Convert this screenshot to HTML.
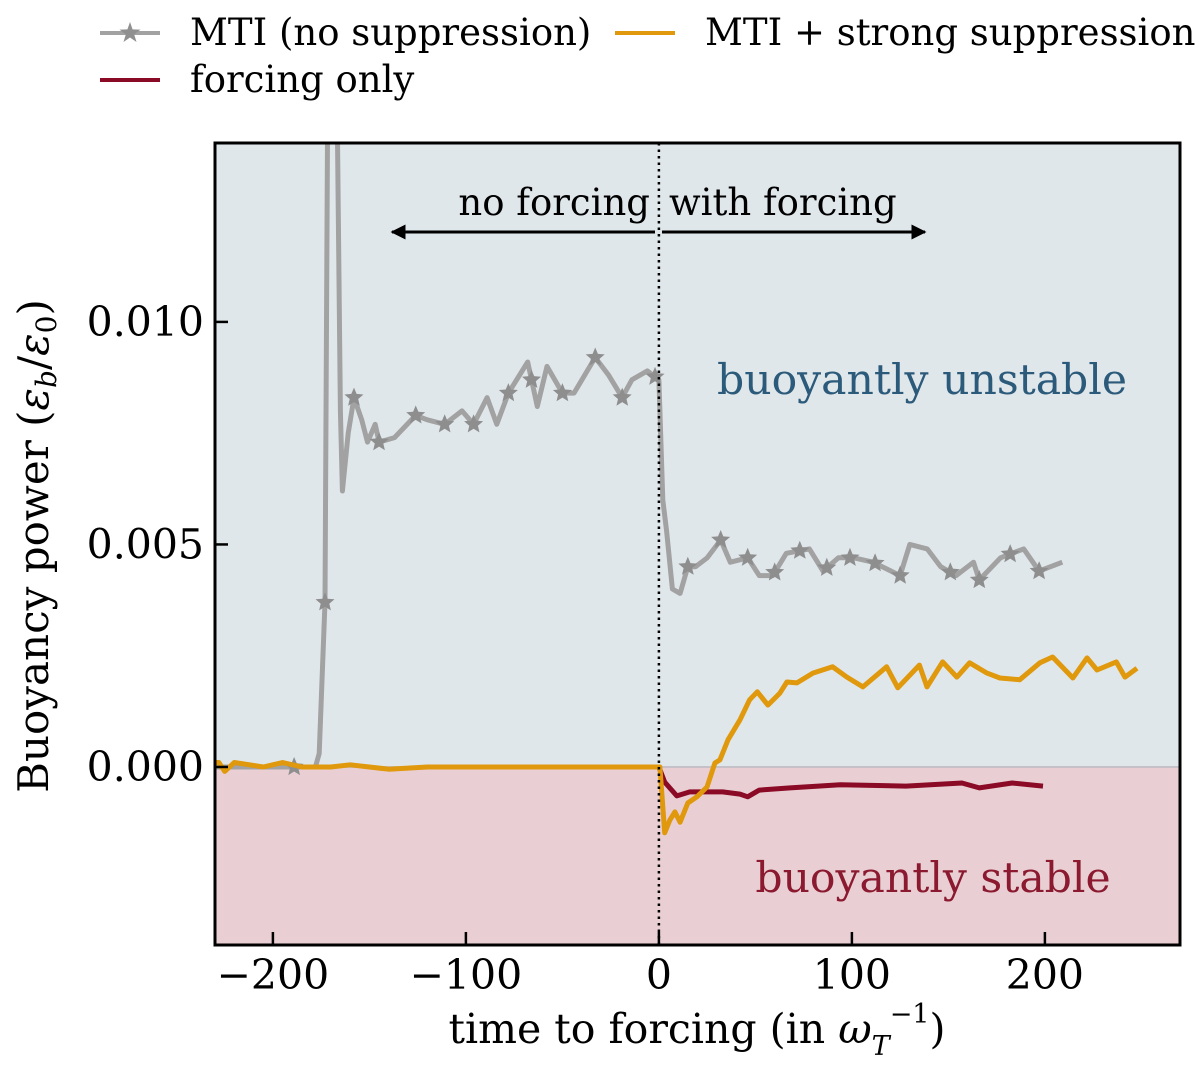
<!DOCTYPE html>
<html><head><meta charset="utf-8"><style>
body{margin:0;background:#fff;}
svg text{font-family:"DejaVu Serif","Liberation Serif",serif;}
</style></head><body>
<svg id="chart" width="1200" height="1070" xmlns="http://www.w3.org/2000/svg">
<defs><clipPath id="clip"><rect x="215" y="143" width="965" height="802"/></clipPath></defs>
<g id="bg"></g>
<g id="series" clip-path="url(#clip)"></g>
<g id="axes"></g>
</svg>
<script>
const grayT=[-230,-189,-178,-176,-173,-171,-168,-165,-164,-161,-158,-154,-151,-147,-145,-137,-126,-120,-111,-102,-96,-89,-84,-78,-68,-63,-58,-50,-44,-33,-26,-19,-14,-6,0,2,4,7,11,15,19,25,32,37,46,52,59,66,78,85,93,101,111,125,130,139,146,154,163,166,177,189,197,209];
const grayV=[0,0,0,0.0003,0.0037,0.02,0.02,0.008,0.0062,0.0075,0.0083,0.0078,0.0073,0.0077,0.0073,0.0074,0.0079,0.0078,0.0077,0.0080,0.0077,0.0083,0.0077,0.0084,0.0091,0.0081,0.0090,0.0084,0.0084,0.0092,0.0088,0.0083,0.0087,0.0089,0.0087,0.0060,0.0053,0.0040,0.0039,0.0045,0.0045,0.0047,0.0051,0.0046,0.0047,0.0043,0.0043,0.0048,0.0049,0.0044,0.0047,0.0047,0.0046,0.0043,0.0050,0.0049,0.0045,0.0043,0.0046,0.0042,0.0047,0.0049,0.0044,0.0046];
const starT=[-189,-173,-158,-145,-126,-111,-96,-78,-66,-50,-33,-19,-2,15,32,46,60,73,87,99,112,125,151,166,182,197];
const orangeT=[-230,-228,-225,-220,-212,-205,-195,-185,-170,-160,-140,-120,-100,0,0.5,3,5.7,8.3,11,15,19.7,24.9,29,31.6,35.8,42,47,51,56.5,62.7,66.3,71.5,79.8,90,97.4,105.7,118,123.8,135,138.9,147,154.4,161,170,176.7,187,197.4,204,214.5,221.8,227,237,241.5,247.7];
const orangeV=[0.0001,0.0001,-0.0001,0.0001,0.00005,0,0.0001,0,0,0.00005,-0.00005,0,0,0,0,-0.00148,-0.00119,-0.00101,-0.00124,-0.00081,-0.00067,-0.00045,0.00009,0.00016,0.00061,0.00106,0.00151,0.00169,0.00139,0.00166,0.00191,0.00189,0.00211,0.00225,0.00202,0.0018,0.00225,0.00178,0.00229,0.0018,0.00236,0.00202,0.00234,0.00211,0.002,0.00196,0.00234,0.00247,0.002,0.00245,0.00218,0.00236,0.00202,0.00222];
const redT=[0,3,9.3,16,25,33,42,46,52,68,94,128,157,166,183,199];
const redV=[0,-0.00034,-0.00065,-0.00056,-0.00056,-0.00056,-0.00061,-0.00067,-0.00052,-0.00047,-0.0004,-0.00043,-0.00036,-0.00047,-0.00036,-0.00043];
const xTicks=[-200,-100,0,100,200];
const xTickLabels=["\u2212200","\u2212100","0","100","200"];
const yTicks=[0,0.005,0.010];
const yTickLabels=["0.000","0.005","0.010"];

const X0=215,X1=1180,Y0=143,Y1=945,xmin=-230,xmax=270,ymin=-0.004,ymax=0.01402;
const sx=t=>X0+(t-xmin)/(xmax-xmin)*(X1-X0);
const sy=v=>Y1-(v-ymin)/(ymax-ymin)*(Y1-Y0);
const NS="http://www.w3.org/2000/svg";
function mk(tag,attrs,parent,txt){const e=document.createElementNS(NS,tag);for(const k in attrs)e.setAttribute(k,attrs[k]);if(txt!==undefined)e.textContent=txt;parent.appendChild(e);return e;}
const bg=document.getElementById('bg'),ser=document.getElementById('series'),ax=document.getElementById('axes');
let r=mk('rect',{x:X0,y:Y0,width:X1-X0,height:sy(0)-Y0,fill:'#e0e7eb'},bg);


r=mk('rect',{x:X0,y:sy(0),width:X1-X0,height:Y1-sy(0),fill:'#e9cfd4'},bg);


r=mk('line',{x1:X0,x2:X1,y1:sy(0),y2:sy(0),stroke:'#c6c0c8','stroke-width':2},bg);


function pts(T,V){return T.map((t,i)=>sx(t).toFixed(1)+','+sy(V[i]).toFixed(1)).join(' ');}
function interp(T,V,t){for(let i=1;i<T.length;i++){if(t<=T[i]){const f=(t-T[i-1])/(T[i]-T[i-1]||1);return V[i-1]+f*(V[i]-V[i-1]);}}return V[V.length-1];}
function star(cx,cy,R,parent,fill){let d='';for(let i=0;i<10;i++){const a=-Math.PI/2+i*Math.PI/5,rr=i%2?R*0.45:R;d+=(i?'L':'M')+(cx+rr*Math.cos(a)).toFixed(1)+','+(cy+rr*Math.sin(a)).toFixed(1);}return mk('path',{d:d+'Z',fill:fill},parent);}
let p=mk('polyline',{points:pts(grayT,grayV),fill:'none',stroke:'#a2a2a2','stroke-width':5,'stroke-linejoin':'round'},ser);


starT.forEach(t=>{const s=star(sx(t),sy(interp(grayT,grayV,t)),10,ser,'#8e8e8e');

});
p=mk('polyline',{points:pts(redT,redV),fill:'none',stroke:'#8b0a25','stroke-width':5,'stroke-linejoin':'round'},ser);


p=mk('polyline',{points:pts(orangeT,orangeV),fill:'none',stroke:'#e0980c','stroke-width':5,'stroke-linejoin':'round'},ser);


p=mk('line',{x1:sx(0),x2:sx(0),y1:Y0,y2:Y1,stroke:'#000','stroke-width':2.5,'stroke-dasharray':'2.5,4'},ser);


p=mk('rect',{x:X0,y:Y0,width:X1-X0,height:Y1-Y0,fill:'none',stroke:'#000','stroke-width':3},ax);


xTicks.forEach((t,i)=>{mk('line',{x1:sx(t),x2:sx(t),y1:Y1,y2:Y1-13,stroke:'#000','stroke-width':2.5},ax);
const tx=mk('text',{x:sx(t),y:989,'text-anchor':'middle','font-size':41},ax,xTickLabels[i]);

});
yTicks.forEach((v,i)=>{mk('line',{x1:X0,x2:X0+13,y1:sy(v),y2:sy(v),stroke:'#000','stroke-width':2.5},ax);
const tx=mk('text',{x:204,y:sy(v)+14,'text-anchor':'end','font-size':41},ax,yTickLabels[i]);

});
</script>
<svg style="position:absolute;left:0;top:0" width="1200" height="1070" xmlns="http://www.w3.org/2000/svg">
<defs><marker id="ah2" viewBox="0 0 10 10" refX="9" refY="5" markerWidth="5" markerHeight="5" orient="auto"><path d="M0,0 L10,5 L0,10 z" fill="#000"/></marker></defs>
<g><text x="697" y="1043" text-anchor="middle" font-size="41" font-family="DejaVu Serif, serif">time to forcing (in <tspan font-style="italic">ω</tspan><tspan font-size="27" dy="12" font-style="italic">T</tspan><tspan font-size="27" dy="-32">−1</tspan><tspan dy="20">)</tspan></text></g>
<g><text transform="translate(48,546) rotate(-90)" text-anchor="middle" font-size="42" font-family="DejaVu Serif, serif">Buoyancy power (<tspan font-style="italic">ε</tspan><tspan font-size="28" dy="8" font-style="italic">b</tspan><tspan dy="-8">/</tspan><tspan font-style="italic">ε</tspan><tspan font-size="28" dy="8">0</tspan><tspan dy="-8">)</tspan></text></g>
<text x="650" y="215" text-anchor="end" font-size="37" font-family="DejaVu Serif, serif">no forcing</text>
<text x="669" y="215" font-size="37" font-family="DejaVu Serif, serif">with forcing</text>
<line x1="655" y1="232" x2="392" y2="232" stroke="#000" stroke-width="3" marker-end="url(#ah2)"/>
<line x1="662" y1="232" x2="925" y2="232" stroke="#000" stroke-width="3" marker-end="url(#ah2)"/>
<text x="922" y="394" text-anchor="middle" font-size="42.5" fill="#2c5a7a" font-family="DejaVu Serif, serif">buoyantly unstable</text>
<text x="933" y="892" text-anchor="middle" font-size="42.5" fill="#8b1a30" font-family="DejaVu Serif, serif">buoyantly stable</text>
<g font-family="DejaVu Serif, serif" font-size="37">
<g><line x1="100" y1="33" x2="160" y2="33" stroke="#a2a2a2" stroke-width="4"/><path d="M130,22 L132.6,29.4 L140.5,29.6 L134.2,34.4 L136.5,42 L130,37.5 L123.5,42 L125.8,34.4 L119.5,29.6 L127.4,29.4Z" fill="#909090"/><text x="190" y="45">MTI (no suppression)</text></g>
<g><line x1="615" y1="33" x2="675" y2="33" stroke="#e0980c" stroke-width="4"/><text x="705" y="45">MTI + strong suppression</text></g>
<g><line x1="100" y1="80" x2="160" y2="80" stroke="#8b0a25" stroke-width="4"/><text x="190" y="92">forcing only</text></g>
</g>
</svg>
</body></html>
